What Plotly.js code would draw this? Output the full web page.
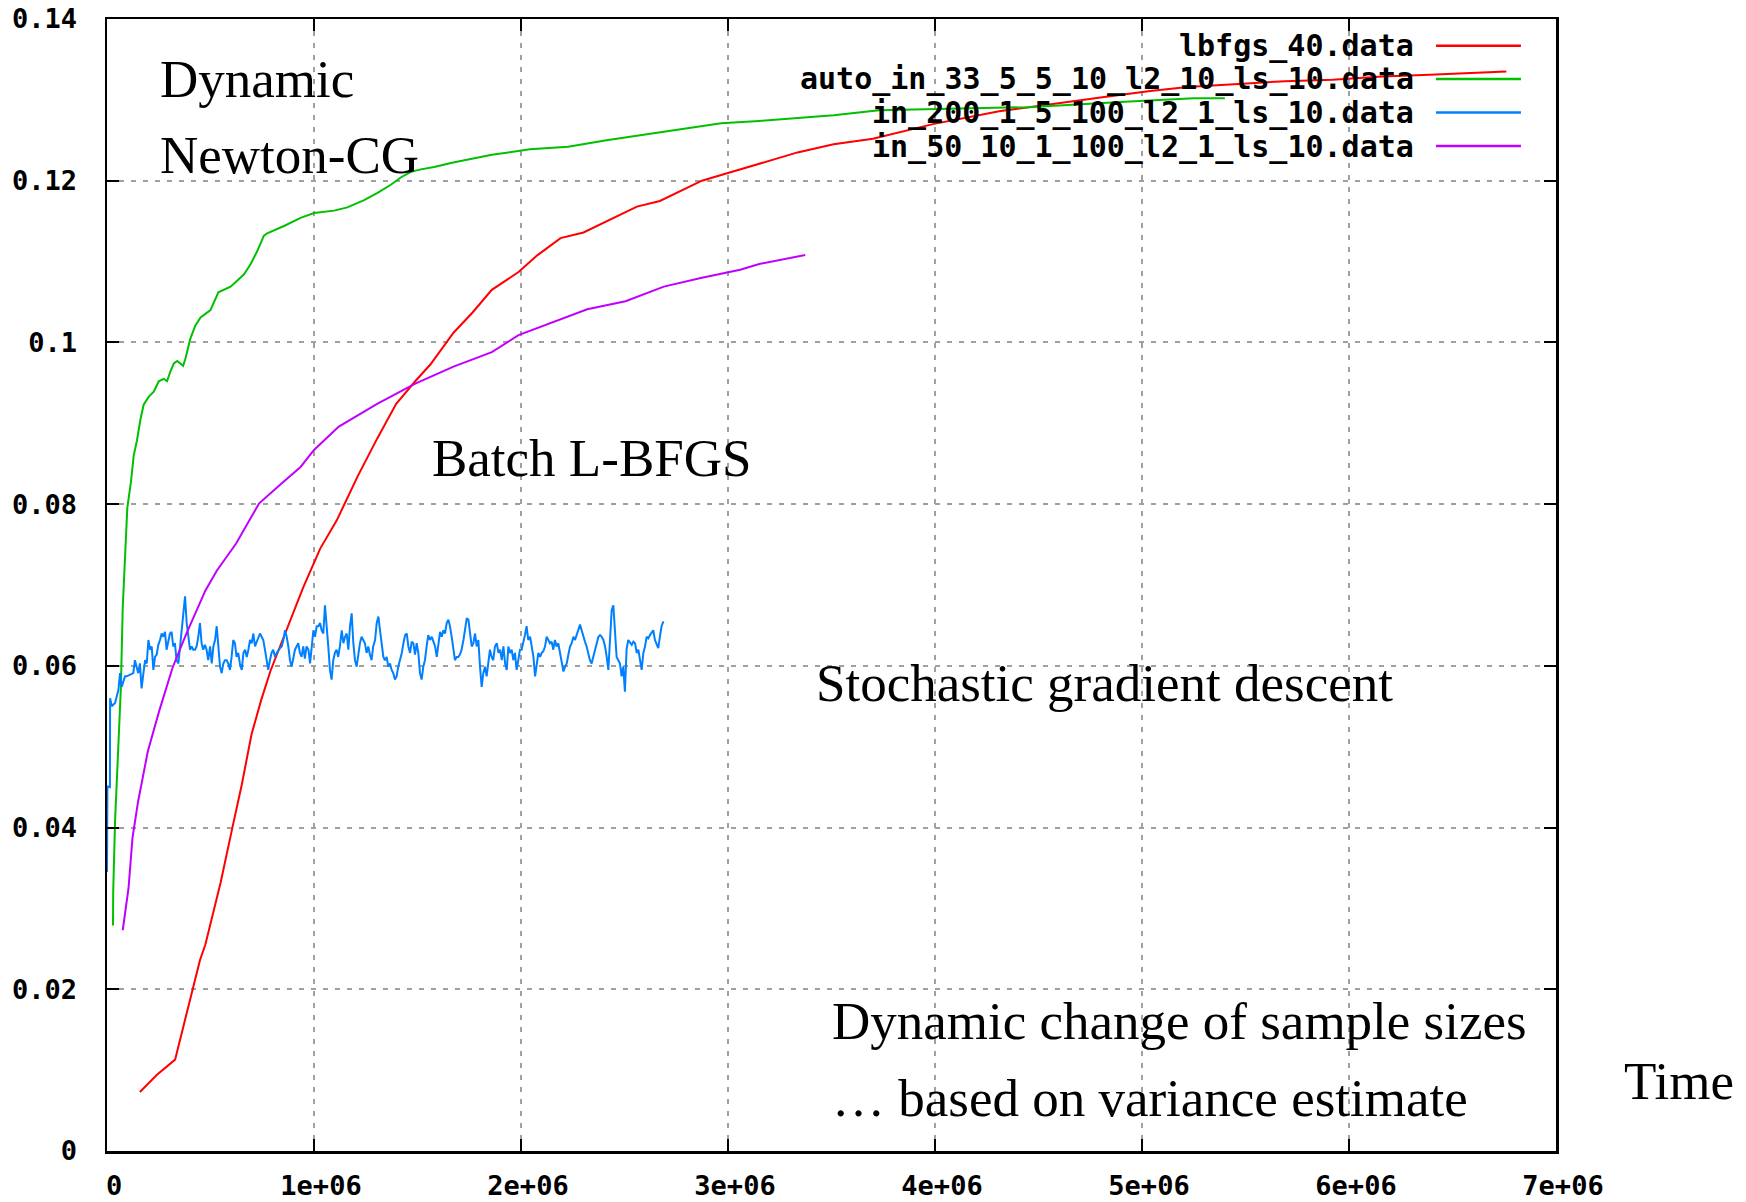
<!DOCTYPE html>
<html>
<head>
<meta charset="utf-8">
<script src="https://cdn.plot.ly/plotly-3.0.1.min.js"></script>
<style>html,body{margin:0;padding:0;background:#fff;}#chart{width:1746px;height:1202px;}</style>
</head>
<body>
<div id="chart"></div>
<script>
// ---------------- data ----------------
const seriesNames = [
  "lbfgs_40.data",
  "auto_in_33_5_5_10_l2_10_ls_10.data",
  "in_200_1_5_100_l2_1_ls_10.data",
  "in_50_10_1_100_l2_1_ls_10.data"
];
const seriesColors = ["#ff0000", "#00c000", "#0080ff", "#c000ff"];

const xTickVals = [0, 1e6, 2e6, 3e6, 4e6, 5e6, 6e6, 7e6];
const xTickText = ["0", "1e+06", "2e+06", "3e+06", "4e+06", "5e+06", "6e+06", "7e+06"];
const yTickVals = [0, 0.02, 0.04, 0.06, 0.08, 0.1, 0.12, 0.14];
const yTickText = ["0", "0.02", "0.04", "0.06", "0.08", "0.1", "0.12", "0.14"];

// Batch L-BFGS (red)
const lbfgsX = [159e3,240e3,329e3,345e3,369e3,393e3,417e3,449e3,475e3,498e3,522e3,549e3,605e3,651e3,698e3,744e3,790e3,846e3,902e3,948e3,994e3,1030e3,1110e3,1212e3,1305e3,1397e3,1489e3,1563e3,1674e3,1766e3,1859e3,1988e3,2080e3,2191e3,2302e3,2450e3,2560e3,2671e3,2874e3,2967e3,3151e3,3336e3,3510e3,3700e3,3990e3,4310e3,4800e3,5040e3,5220e3,5460e3,5690e3,5920e3,6160e3,6390e3,6670e3,6760e3];
const lbfgsY = [.0073,.0094,.0113,.0129,.0154,.0179,.0203,.0236,.0255,.0280,.0302,.0332,.0399,.0453,.0515,.0557,.0594,.0631,.0668,.0697,.0724,.0745,.0780,.0835,.0881,.0924,.0952,.0973,.1012,.1037,.1065,.1087,.1108,.1129,.1136,.1154,.1168,.1175,.1200,.1207,.1221,.1235,.1245,.1252,.1270,.1286,.1303,.1311,.1316,.1320,.1323,.1325,.1329,.1331,.1334,.1335];

// Dynamic Newton-CG (green)
const autoX = [29e3,30e3,39e3,52e3,67e3,76e3,89e3,98e3,116e3,129e3,145e3,161e3,177e3,202e3,226e3,250e3,274e3,290e3,306e3,323e3,339e3,355e3,368e3,379e3,395e3,403e3,427e3,452e3,500e3,538e3,597e3,661e3,694e3,726e3,758e3,774e3,855e3,935e3,1000e3,1097e3,1161e3,1242e3,1307e3,1371e3,1419e3,1468e3,1516e3,1581e3,1661e3,1859e3,2043e3,2228e3,2413e3,2597e3,2782e3,2967e3,3151e3,3336e3,3510e3,3730e3,4450e3,4940e3,5250e3,5400e3];
const autoY = [.0279,.0321,.0408,.0490,.0573,.0672,.0745,.0795,.0828,.0860,.0879,.0904,.0923,.0933,.0939,.0952,.0955,.0952,.0964,.0974,.0977,.0974,.0971,.0980,.0996,.1005,.1021,.1031,.1040,.1062,.1069,.1084,.1097,.1113,.1132,.1135,.1144,.1154,.1160,.1163,.1167,.1176,.1185,.1195,.1204,.1211,.1214,.1217,.1222,.1232,.1239,.1242,.1250,.1257,.1264,.1271,.1274,.1278,.1281,.1287,.1291,.1298,.1302,.1302];

// Stochastic gradient descent (blue)
const sgdX = [0,2e3,14e3,15e3,23e3,39e3,55e3,63e3,71e3,87e3,95e3,111e3,
127e3,135e3,143e3,151e3,159e3,167e3,176e3,184e3,192e3,200e3,208e3,216e3,224e3,232e3,240e3,248e3,256e3,264e3,272e3,280e3,288e3,296e3,304e3,312e3,320e3,328e3,336e3,345e3,353e3,361e3,369e3,377e3,385e3,393e3,401e3,409e3,417e3,425e3,433e3,441e3,449e3,457e3,465e3,473e3,481e3,489e3,498e3,506e3,514e3,522e3,530e3,538e3,546e3,554e3,562e3,570e3,578e3,586e3,594e3,602e3,610e3,618e3,626e3,634e3,642e3,651e3,659e3,667e3,675e3,683e3,691e3,699e3,707e3,715e3,723e3,731e3,739e3,747e3,755e3,763e3,771e3,779e3,787e3,795e3,803e3,812e3,820e3,828e3,836e3,844e3,852e3,860e3,868e3,876e3,884e3,892e3,900e3,908e3,916e3,924e3,932e3,940e3,948e3,956e3,964e3,973e3,981e3,989e3,997e3,1005e3,1013e3,1021e3,1029e3,1037e3,1045e3,1053e3,1061e3,1069e3,1077e3,1085e3,1093e3,1101e3,1109e3,1117e3,1125e3,1134e3,1142e3,1150e3,1158e3,1166e3,1174e3,1182e3,1190e3,1198e3,1206e3,1214e3,1222e3,1230e3,1238e3,1246e3,1254e3,1262e3,1270e3,1278e3,1286e3,1295e3,1303e3,1311e3,1319e3,1327e3,1335e3,1343e3,1351e3,1359e3,1367e3,1375e3,1383e3,1391e3,1399e3,1407e3,
1424e3,1432e3,1440e3,1448e3,1456e3,1464e3,1472e3,1480e3,1488e3,1496e3,1504e3,1512e3,1520e3,1528e3,1536e3,1544e3,1552e3,1560e3,1569e3,1577e3,1585e3,1593e3,1601e3,1609e3,1617e3,1625e3,1633e3,1641e3,1649e3,1657e3,1665e3,1673e3,1681e3,1689e3,1697e3,1705e3,1713e3,1722e3,1730e3,1738e3,1746e3,1754e3,1762e3,1770e3,1778e3,1786e3,1794e3,1802e3,1810e3,1818e3,1826e3,1834e3,1842e3,1850e3,1858e3,1866e3,1874e3,1883e3,1891e3,1899e3,1907e3,1915e3,1923e3,1931e3,1939e3,1947e3,1955e3,1963e3,1971e3,1979e3,1987e3,1995e3,2003e3,2011e3,2019e3,2027e3,2035e3,2044e3,2052e3,2060e3,2068e3,2076e3,2084e3,2092e3,2100e3,2108e3,2116e3,2124e3,2132e3,2140e3,2148e3,2156e3,2164e3,2172e3,2180e3,2188e3,2196e3,2205e3,2213e3,2221e3,2229e3,2237e3,2245e3,2253e3,2261e3,2269e3,2277e3,2285e3,2293e3,2301e3,2309e3,2317e3,2325e3,2333e3,2341e3,2349e3,2357e3,2366e3,2374e3,2382e3,2390e3,2398e3,2406e3,2414e3,2422e3,2430e3,2438e3,2446e3,2454e3,2462e3,2470e3,2478e3,2486e3,2494e3,2502e3,2510e3,2518e3,2527e3,2535e3,2543e3,2551e3,2559e3,2567e3,2575e3,2583e3,2591e3,2599e3,2607e3,2615e3,2623e3,2631e3,2639e3,2647e3,2655e3,2663e3,2671e3,2679e3,2688e3];
const sgdY = [.0345,.0451,.0450,.0560,.0550,.0554,.0570,.0591,.0574,.0587,.0587,.0589,
.0591,.0607,.0597,.0591,.0603,.0572,.0591,.0607,.0603,.0632,.0620,.0624,.0595,.0611,.0614,.0626,.0632,.0640,.0636,.0642,.0620,.0632,.0640,.0642,.0624,.0628,.0607,.0603,.0624,.0636,.0661,.0686,.0653,.0632,.0620,.0624,.0620,.0620,.0624,.0636,.0653,.0628,.0620,.0626,.0620,.0607,.0624,.0603,.0624,.0632,.0649,.0624,.0599,.0591,.0603,.0607,.0607,.0603,.0595,.0611,.0632,.0628,.0611,.0616,.0603,.0595,.0616,.0620,.0611,.0620,.0632,.0628,.0640,.0624,.0630,.0636,.0640,.0636,.0632,.0620,.0607,.0595,.0607,.0616,.0620,.0611,.0616,.0620,.0622,.0624,.0632,.0644,.0636,.0624,.0607,.0599,.0611,.0620,.0624,.0628,.0616,.0611,.0624,.0609,.0624,.0620,.0603,.0624,.0644,.0636,.0649,.0649,.0653,.0644,.0640,.0675,.0653,.0624,.0595,.0583,.0607,.0616,.0620,.0611,.0624,.0644,.0628,.0636,.0640,.0620,.0649,.0665,.0628,.0607,.0599,.0616,.0628,.0636,.0632,.0628,.0616,.0624,.0614,.0607,.0624,.0632,.0653,.0661,.0644,.0624,.0611,.0607,.0611,.0599,.0603,.0595,.0591,.0583,.0587,.0599,
.0616,.0628,.0638,.0640,.0624,.0616,.0630,.0628,.0614,.0628,.0616,.0591,.0583,.0599,.0607,.0624,.0638,.0632,.0636,.0630,.0624,.0611,.0628,.0642,.0636,.0644,.0640,.0653,.0657,.0649,.0636,.0620,.0607,.0611,.0611,.0614,.0620,.0632,.0644,.0659,.0657,.0640,.0624,.0628,.0640,.0624,.0632,.0599,.0574,.0591,.0599,.0587,.0603,.0620,.0611,.0607,.0624,.0628,.0616,.0620,.0607,.0624,.0603,.0595,.0624,.0616,.0620,.0607,.0616,.0595,.0607,.0620,.0620,.0628,.0638,.0649,.0632,.0636,.0624,.0611,.0587,.0603,.0616,.0611,.0616,.0618,.0624,.0636,.0632,.0628,.0630,.0620,.0632,.0624,.0628,.0616,.0607,.0593,.0599,.0603,.0614,.0624,.0628,.0636,.0632,.0638,.0644,.0651,.0644,.0636,.0630,.0624,.0616,.0607,.0603,.0611,.0620,.0626,.0636,.0638,.0636,.0632,.0624,.0611,.0595,.0632,.0669,.0675,.0644,.0611,.0607,.0603,.0587,.0599,.0568,.0620,.0632,.0628,.0626,.0630,.0628,.0616,.0620,.0607,.0595,.0616,.0624,.0636,.0634,.0638,.0642,.0644,.0632,.0628,.0622,.0636,.0649,.0655];

// Dynamic sample size variant (purple)
const in50X = [76e3,104e3,123e3,150e3,197e3,252e3,317e3,382e3,475e3,531e3,623e3,735e3,850e3,935e3,1000e3,1120e3,1305e3,1489e3,1674e3,1859e3,1988e3,2136e3,2320e3,2505e3,2690e3,2874e3,3059e3,3151e3,3299e3,3373e3];
const in50Y = [.0273,.0325,.0387,.0432,.0494,.0544,.0598,.0639,.0693,.0718,.0751,.0801,.0827,.0846,.0867,.0896,.0924,.0949,.0970,.0988,.1009,.1023,.1041,.1051,.1069,.1080,.1090,.1097,.1104,.1108];

const overlayNotes = [
  "Dynamic", "Newton-CG", "Batch L-BFGS", "Stochastic gradient descent",
  "Dynamic change of sample sizes", "\u2026 based on variance estimate", "Time"
];

// ---------------- chart ----------------
const seriesX = [lbfgsX, autoX, sgdX, in50X];
const seriesY = [lbfgsY, autoY, sgdY, in50Y];

const traces = seriesNames.map((name, i) => ({
  type: "scatter",
  mode: "lines",
  name: name,
  x: seriesX[i],
  y: seriesY[i],
  line: {color: seriesColors[i], width: 2},
  hoverinfo: "skip"
}));

const monoFont = {family: "DejaVu Sans Mono, Liberation Mono, monospace", size: 27, color: "#000", weight: "bold"};
const serifFont = {family: "Liberation Serif, Times New Roman, serif", size: 53, color: "#000"};

const notePos = [
  [0.0352, 0.9470], [0.0352, 0.8799], [0.2229, 0.6122], [0.4879, 0.4134],
  [0.4990, 0.1148], [0.4990, 0.0468], [1.0456, 0.0618]
];

const annotations = overlayNotes.map((t, i) => ({
  text: t, xref: "paper", yref: "paper", x: notePos[i][0], y: notePos[i][1],
  xanchor: "left", yanchor: "middle", showarrow: false, font: serifFont
}));

const legendRows = [0.9764, 0.9470, 0.9174, 0.8878];
const shapes = [];
seriesNames.forEach((name, i) => {
  annotations.push({
    text: name, xref: "paper", yref: "paper", x: 0.9034, y: legendRows[i],
    xanchor: "right", yanchor: "middle", showarrow: false,
    font: {family: monoFont.family, size: 30, color: "#000", weight: "bold"}
  });
  shapes.push({
    type: "line", xref: "paper", yref: "paper",
    x0: 0.9172, x1: 0.9758, y0: legendRows[i], y1: legendRows[i],
    line: {color: seriesColors[i], width: 2.5}
  });
});

const axisCommon = {
  showgrid: true, gridcolor: "#a0a0a0", gridwidth: 2, griddash: "5px,7px",
  zeroline: false, showline: true, linecolor: "#000", linewidth: 2.5,
  mirror: "ticks", ticks: "inside", ticklen: 12, tickwidth: 2, tickcolor: "#000",
  tickfont: monoFont, tickmode: "array"
};

const layout = {
  width: 1746, height: 1202,
  margin: {l: 107, r: 190, t: 19, b: 51, pad: 0},
  paper_bgcolor: "#ffffff", plot_bgcolor: "#ffffff",
  showlegend: false,
  xaxis: Object.assign({}, axisCommon, {
    range: [0, 7e6], tickvals: xTickVals, ticktext: xTickText,
    ticklabelstandoff: 9, ticklabelshift: 7
  }),
  yaxis: Object.assign({}, axisCommon, {
    range: [0, 0.14], tickvals: yTickVals, ticktext: yTickText,
    ticklabelstandoff: 22
  }),
  annotations: annotations,
  shapes: shapes
};

Plotly.newPlot("chart", traces, layout, {staticPlot: true, displayModeBar: false});
</script>
</body>
</html>
